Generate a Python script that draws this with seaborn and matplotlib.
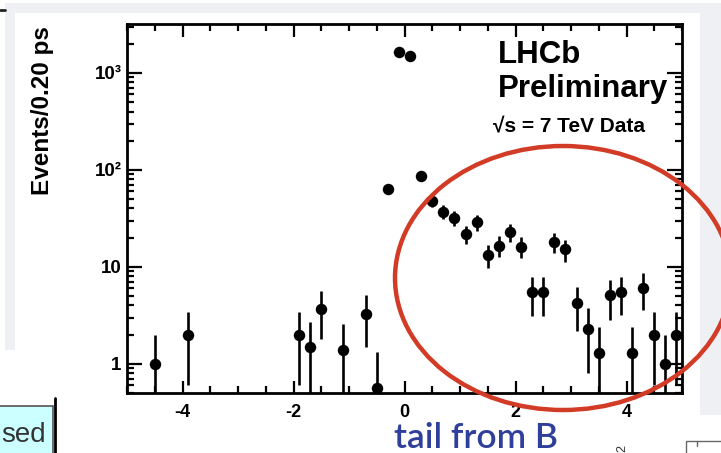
import numpy as np
import pandas as pd
import matplotlib
matplotlib.use("Agg")
import matplotlib.pyplot as plt
import seaborn as sns
from matplotlib.patches import Ellipse, Rectangle
from matplotlib.ticker import LogLocator, NullFormatter, MultipleLocator

# ---------------- data ----------------
decay_time = [-4.5, -3.9, -1.9, -1.7, -1.5, -1.1, -0.7, -0.5, -0.3, -0.1,
              0.1, 0.3, 0.5, 0.7, 0.9, 1.1, 1.3, 1.5, 1.7, 1.9,
              2.1, 2.3, 2.5, 2.7, 2.9, 3.1, 3.3, 3.5, 3.7, 3.9,
              4.1, 4.3, 4.5, 4.7, 4.9]
events = [1.0, 2.0, 2.0, 1.5, 3.7, 1.4, 3.3, 0.56, 64, 1660,
          1500, 86, 48, 37, 32, 22, 29, 13.3, 16.6, 23,
          16.2, 5.5, 5.5, 18.2, 15.2, 4.2, 2.3, 1.3, 5.1, 5.5,
          1.3, 6.1, 2.0, 1.0, 2.0]
errors = [1.0, 1.4, 1.4, 1.2, 1.9, 1.2, 1.8, 0.75, 8.0, 41,
          39, 9.3, 6.9, 6.1, 5.7, 4.7, 5.4, 3.6, 4.1, 4.8,
          4.0, 2.4, 2.4, 4.3, 3.9, 2.0, 1.5, 1.1, 2.3, 2.3,
          1.1, 2.5, 1.4, 1.0, 1.4]
x_ticks = [-4, -2, 0, 2, 4]
x_tick_labels = ["-4", "-2", "0", "2", "4"]
y_ticks = [1, 10, 100, 1000]
y_tick_labels = ["1", "10", "10\u00b2", "10\u00b3"]

# ---------------- style ----------------
sns.set_style("ticks")
plt.rcParams['font.family'] = ['Liberation Sans', 'DejaVu Sans']
plt.rcParams['text.color'] = 'black'
plt.rcParams['xtick.color'] = 'black'
plt.rcParams['ytick.color'] = 'black'
plt.rcParams['xtick.labelcolor'] = 'black'
plt.rcParams['ytick.labelcolor'] = 'black'

W, H = 721, 453
fig = plt.figure(figsize=(W / 100, H / 100), dpi=100)
fig.patch.set_facecolor('white')

# slide background pieces
bg = fig.add_axes([0, 0, 1, 1], zorder=0)
bg.set_xlim(0, W); bg.set_ylim(H, 0); bg.axis('off')
gray = '#eef0f3'
bg.add_patch(Rectangle((5, 3), 716, 10, color=gray, lw=0))
bg.add_patch(Rectangle((5, 13), 10, 337, color=gray, lw=0))
bg.add_patch(Rectangle((700, 13), 21, 402, color=gray, lw=0))

# ---------------- main plot ----------------
ax = fig.add_axes([127 / W, 1 - 393 / H, (682 - 127) / W, (393 - 24) / H], zorder=1)
ax.set_facecolor('white')
df = pd.DataFrame({'t': decay_time, 'n': events, 'e': errors})
lower = np.minimum(df['e'].values, df['n'].values - 0.3)
ax.errorbar(df['t'], df['n'], yerr=[lower, df['e'].values], fmt='none',
            ecolor='black', elinewidth=1.9, capsize=0, zorder=2)
sns.scatterplot(data=df, x='t', y='n', ax=ax, color='black', s=68,
                edgecolor='black', linewidth=0, zorder=3, legend=False)

ax.set_yscale('log')
ax.set_xlim(-5, 5)
ax.set_ylim(0.5, 3200)
ax.set_xlabel('')
ax.set_ylabel('')

ax.set_xticks(x_ticks, labels=x_tick_labels, fontsize=13, fontweight='bold')
ax.set_yticks(y_ticks, labels=y_tick_labels, fontsize=13.5, fontweight='bold')
ax.xaxis.set_minor_locator(MultipleLocator(0.5))
ax.yaxis.set_minor_locator(LogLocator(base=10, subs=np.arange(2, 10)))
ax.yaxis.set_minor_formatter(NullFormatter())

ax.tick_params(which='both', direction='in', top=True, right=True,
               width=1.6, color='black', labelcolor='black')
ax.tick_params(axis='x', which='major', length=9, pad=8)
ax.tick_params(axis='y', which='major', length=11, pad=4)
ax.tick_params(axis='both', which='minor', length=5)
for sp in ax.spines.values():
    sp.set_linewidth(2.0)
    sp.set_color('black')
    sp.set_visible(True)

# ---------------- overlay (texts, ellipse, slide fragments) ----------------
ov = fig.add_axes([0, 0, 1, 1], zorder=5)
ov.set_xlim(0, W); ov.set_ylim(H, 0); ov.axis('off')
ov.patch.set_alpha(0)

ov.text(43, 111, "Events/0.20 ps", rotation=90, ha='center', va='center',
        fontsize=17.5, fontweight='bold', color='black')
ov.text(498, 63, "LHCb", fontsize=22.5, fontweight='bold', va='baseline', color='black')
ov.text(498, 97, "Preliminary", fontsize=22.5, fontweight='bold', va='baseline', color='black')
ov.text(493, 132, "\u221as = 7 TeV Data", fontsize=15, fontweight='bold', va='baseline',
        color='black')

ov.add_patch(Ellipse((563, 278), 336, 264, fill=False, edgecolor='#d23b26', lw=3.2))

ov.text(476, 448, "tail from B", color='#2f3f9a', fontsize=25.5, fontweight='semibold',
        family=['Lato', 'DejaVu Sans'], ha='center', va='baseline')

# slide fragments at the edges
ov.add_patch(Rectangle((-2, 406), 55, 52, facecolor='#ccffff', edgecolor='#555555', lw=1.2))
ov.text(1, 442, "sed", ha='left', va='baseline', fontsize=20, color='#333333')
ov.plot([55, 55], [398, 453], color='black', lw=2)
ov.plot([0, 5], [10, 10], color='#222222', lw=2)
ov.add_patch(Rectangle((686, 441), 40, 15, fill=False, edgecolor='#666666', lw=1))
ov.plot([697, 697], [441, 446], color='#666666', lw=1)
ov.text(622, 452, "2", rotation=90, ha='center', va='bottom', fontsize=9, color='#333333')

fig.savefig('out.png', dpi=100)
